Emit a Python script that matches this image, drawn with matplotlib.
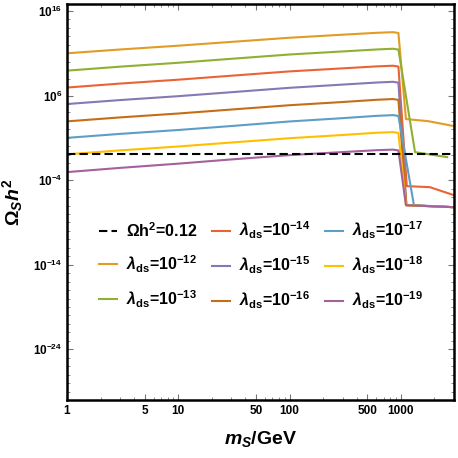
import matplotlib
matplotlib.use('Agg')
import matplotlib.pyplot as plt
import matplotlib.ticker as mticker
import numpy as np

plt.rcParams['font.family'] = ['Liberation Sans', 'DejaVu Sans']
plt.rcParams['font.weight'] = 'bold'
plt.rcParams['axes.labelweight'] = 'bold'
plt.rcParams['mathtext.fontset'] = 'custom'
plt.rcParams['mathtext.rm'] = 'Liberation Sans:bold'
plt.rcParams['mathtext.it'] = 'Liberation Sans:bold:italic'
plt.rcParams['mathtext.bf'] = 'Liberation Sans:bold'

# masses (GeV) and log10(Omega h^2)
m_flat = [1, 3, 10, 30, 100, 300, 600, 850, 950]

lam12 = [11.0, 11.45, 11.9, 12.35, 12.84, 13.2, 13.42, 13.5, 13.4]
lam13 = [8.95, 9.42, 9.88, 10.35, 10.86, 11.22, 11.45, 11.54, 11.44]
lam14 = [6.95, 7.42, 7.88, 8.35, 8.86, 9.22, 9.45, 9.53, 9.43]
lam15 = [5.0, 5.47, 5.93, 6.4, 6.92, 7.3, 7.54, 7.63, 7.53]
lam16 = [2.95, 3.42, 3.88, 4.35, 4.86, 5.24, 5.5, 5.59, 5.49]
lam17 = [1.0, 1.47, 1.93, 2.4, 2.94, 3.33, 3.6, 3.69, 3.59]
lam18 = [-0.95, -0.48, -0.02, 0.45, 0.96, 1.34, 1.6, 1.68, 1.58]
lam19 = [-3.05, -2.55, -2.05, -1.55, -1.04, -0.68, -0.46, -0.39, -0.49]

# tails after the drop near 1 TeV
tail12_m, tail12 = [1110, 1750, 3000], [3.22, 2.98, 2.39]
tail13_m, tail13 = [1340, 2600], [-0.69, -1.28]
tail14_m, tail14 = [1130, 1820, 3000], [-4.71, -4.83, -5.78]
tail15_m, tail15 = [1120, 3000], [-6.96, -7.2]
tail16_m, tail16 = [1120, 3000], [-6.96, -7.2]
tail17_m, tail17 = [1310, 3000], [-6.96, -7.2]
tail18_m, tail18 = [1110, 3000], [-6.96, -7.2]
tail19_m, tail19 = [1110, 3000], [-6.96, -7.2]

omega_obs = 0.12

exps = [-12, -13, -14, -15, -16, -17, -18, -19]
flats = [lam12, lam13, lam14, lam15, lam16, lam17, lam18, lam19]
tails = [(tail12_m, tail12), (tail13_m, tail13), (tail14_m, tail14),
         (tail15_m, tail15), (tail16_m, tail16), (tail17_m, tail17),
         (tail18_m, tail18), (tail19_m, tail19)]
colors = ['#E19C24', '#8FB032', '#EB6235', '#8778B3',
          '#C56E1A', '#5D9EC7', '#FFBF00', '#A5609D']

fig = plt.figure(figsize=(4.58, 4.58), dpi=100)
ax = fig.add_axes([67 / 458, 1 - 400 / 458, 387 / 458, 396 / 458])

handles = []
h, = ax.plot([1, 3000], [omega_obs, omega_obs], color='black', lw=1.5,
             dashes=(4, 2), label=r'$\Omega$h$^2$=0.12', zorder=5)
handles.append(h)
for e, flat, (tm, tv), c in zip(exps, flats, tails, colors):
    xs = m_flat + tm
    ys = [10.0 ** v for v in flat + tv]
    h, = ax.plot(xs, ys, color=c, lw=1.5,
                 label=r'$\lambda_{\rm ds}$=10$^{%d}$' % e)
    handles.append(h)

ax.set_xscale('log')
ax.set_yscale('log')
ax.set_xlim(1, 3000)
ax.set_ylim(1e-30, 10 ** 16.83)

ax.xaxis.set_major_locator(mticker.FixedLocator([1, 5, 10, 50, 100, 500, 1000]))
ax.xaxis.set_major_formatter(mticker.FixedFormatter(['1', '5', '10', '50', '100', '500', '1000']))
ax.xaxis.set_minor_locator(mticker.LogLocator(base=10, subs=np.arange(2, 10), numticks=20))
ax.xaxis.set_minor_formatter(mticker.NullFormatter())

ax.yaxis.set_major_locator(mticker.FixedLocator([1e-24, 1e-14, 1e-4, 1e6, 1e16]))
ax.yaxis.set_major_formatter(mticker.FixedFormatter(
    [r'$10^{-24}$', r'$10^{-14}$', r'$10^{-4}$', r'$10^{6}$', r'$10^{16}$']))
ax.yaxis.set_minor_locator(mticker.FixedLocator([10.0 ** k for k in range(-30, 17)]))
ax.yaxis.set_minor_formatter(mticker.NullFormatter())

ax.tick_params(which='both', direction='in', top=True, right=True,
               color='#777777', labelsize=8.5)
ax.tick_params(which='major', length=4.5, width=0.8)
ax.tick_params(which='minor', length=2.5, width=0.6)
for lab in ax.get_xticklabels() + ax.get_yticklabels():
    lab.set_fontweight('bold')
for sp in ax.spines.values():
    sp.set_linewidth(1.8)

ax.set_xlabel(r'$m_S$/GeV', fontsize=14, fontweight='bold', labelpad=9)
ax.set_ylabel(r'$\Omega_S h^2$', fontsize=14, fontweight='bold', labelpad=6)

ax.legend(handles=handles, ncol=3, frameon=False, fontsize=11.5,
          loc='center', bbox_to_anchor=(0.502, 0.339),
          handlelength=1.1, handletextpad=0.6, columnspacing=0.9,
          labelspacing=0.85)

fig.savefig('out.png', dpi=100)
